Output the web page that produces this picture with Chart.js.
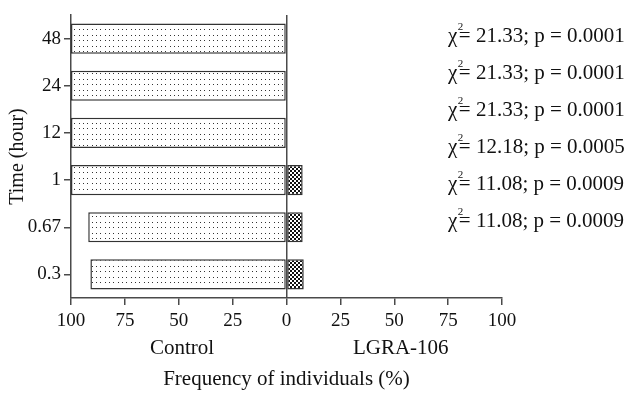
<!DOCTYPE html>
<html>
<head>
<meta charset="utf-8">
<script src="https://cdn.jsdelivr.net/npm/chart.js@4/dist/chart.umd.min.js"></script>
<style>
  html, body { margin: 0; padding: 0; background: #fff; }
  #wrap { width: 634px; height: 393px; position: relative; }
</style>
</head>
<body>
<div id="wrap"><canvas id="freqChart"></canvas></div>
<script>
// Data
const timeLabels = ['48', '24', '12', '1', '0.67', '0.3'];
const controlValues = [100, 100, 100, 100, 92, 91];
const lgraValues = [0, 0, 0, 7.5, 7.5, 8];
const chiValues = ['21.33', '21.33', '21.33', '12.18', '11.08', '11.08'];
const pValues = ['0.0001', '0.0001', '0.0001', '0.0005', '0.0009', '0.0009'];
const xTicks = [-100, -75, -50, -25, 0, 25, 50, 75, 100];

const serif = '"Liberation Serif", "Times New Roman", serif';
const lineColor = '#4a4a4a';

// Fill patterns
function makePattern(w, h, draw) {
    const c = document.createElement('canvas');
    c.width = w;
    c.height = h;
    const g = c.getContext('2d');
    g.fillStyle = '#fff';
    g.fillRect(0, 0, w, h);
    draw(g);
    return g.createPattern(c, 'repeat');
}

const dotPattern = makePattern(13, 11, g => {
    g.fillStyle = '#333';
    [1, 5, 9].forEach(x => {
        [2, 7].forEach(y => g.fillRect(x, y, 1, 1));
    });
});

const checkPattern = makePattern(4, 4, g => {
    g.fillStyle = '#111';
    g.fillRect(0, 0, 2, 2);
    g.fillRect(2, 2, 2, 2);
});

// Extra texts: group names under the axis and chi-square labels on the right
const annotations = {
    id: 'annotations',
    afterDraw(chart) {
        const ctx = chart.ctx;
        const xs = chart.scales.x;
        const area = chart.chartArea;
        ctx.save();
        ctx.fillStyle = '#111';
        ctx.textBaseline = 'middle';
        ctx.textAlign = 'center';
        ctx.font = '21px ' + serif;
        ctx.fillText('Control', xs.getPixelForValue(-48.5), area.bottom + 50);
        ctx.fillText('LGRA-106', xs.getPixelForValue(53), area.bottom + 50);

        ctx.textAlign = 'left';
        chiValues.forEach((chi, i) => {
            const y = area.top + 21 + i * 37;
            let x = 448;
            ctx.font = '21px ' + serif;
            ctx.fillText('\u03C7', x, y);
            x += ctx.measureText('\u03C7').width + 0.5;
            ctx.font = '11px ' + serif;
            ctx.fillText('2', x, y - 9);
            ctx.font = '21px ' + serif;
            ctx.fillText('= ' + chi + '; p = ' + pValues[i], x + 1, y);
        });
        ctx.restore();
    }
};

const ctx = document.getElementById('freqChart').getContext('2d');

new Chart(ctx, {
    type: 'bar',
    data: {
        labels: timeLabels,
        datasets: [
            {
                label: 'Control',
                data: controlValues.map(v => -v),
                backgroundColor: dotPattern,
                borderColor: '#333',
                borderWidth: 1.5,
                borderSkipped: false,
            },
            {
                label: 'LGRA-106',
                data: lgraValues,
                backgroundColor: checkPattern,
                borderColor: '#333',
                borderWidth: 1.5,
                borderSkipped: false,
            }
        ]
    },
    options: {
        indexAxis: 'y',
        responsive: true,
        maintainAspectRatio: false,
        animation: false,
        categoryPercentage: 1,
        barPercentage: 0.64,
        layout: {
            padding: { top: 15, right: 132, left: 0, bottom: 0 }
        },
        plugins: {
            legend: { display: false },
            tooltip: { enabled: false }
        },
        scales: {
            x: {
                type: 'linear',
                stacked: true,
                min: -100,
                max: 100,
                afterFit: scale => { scale.height = 95; },
                afterBuildTicks: scale => {
                    scale.ticks = xTicks.map(v => ({ value: v }));
                },
                ticks: {
                    color: '#111',
                    padding: 5,
                    maxRotation: 0,
                    font: { family: serif, size: 19 },
                    callback: v => Math.abs(v)
                },
                grid: {
                    drawOnChartArea: true,
                    color: c => (c.tick && c.tick.value === 0 ? lineColor : 'rgba(0,0,0,0)'),
                    lineWidth: 1.5,
                    tickColor: lineColor,
                    tickLength: 7,
                    tickWidth: 1.5
                },
                border: { display: true, color: lineColor, width: 1.5 },
                title: {
                    display: true,
                    text: 'Frequency of individuals (%)',
                    color: '#111',
                    font: { family: serif, size: 21 },
                    padding: { top: 1, bottom: 1 }
                }
            },
            y: {
                stacked: true,
                afterFit: scale => { scale.width = 71; },
                ticks: {
                    color: '#111',
                    padding: 3,
                    font: { family: serif, size: 19 }
                },
                grid: {
                    offset: false,
                    drawOnChartArea: false,
                    color: lineColor,
                    tickLength: 7,
                    lineWidth: 1.5
                },
                border: { display: true, color: lineColor, width: 1.5 },
                title: {
                    display: true,
                    text: 'Time (hour)',
                    color: '#111',
                    font: { family: serif, size: 20 },
                    padding: { top: 6, bottom: 0 }
                }
            }
        }
    },
    plugins: [annotations]
});
</script>
</body>
</html>
